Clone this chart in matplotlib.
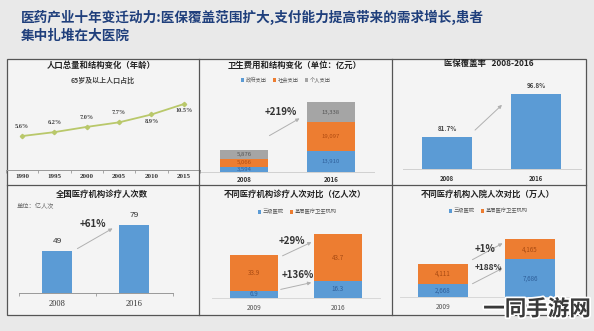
import matplotlib
matplotlib.use("Agg")
import matplotlib.pyplot as plt
import matplotlib.patheffects as pe
from matplotlib.patches import Rectangle
from matplotlib.lines import Line2D
import numpy as np

plt.rcParams['font.family'] = ['Noto Sans CJK SC', 'DejaVu Sans']

# ---------------- data ----------------
title_text = "医药产业十年变迁动力:医保覆盖范围扩大,支付能力提高带来的需求增长,患者\n集中扎堆在大医院"

p1_title = "人口总量和结构变化（年龄）"
p1_sub = "65岁及以上人口占比"
p1_years = ["1990", "1995", "2000", "2005", "2010", "2015"]
p1_values = [5.6, 6.2, 7.0, 7.7, 8.9, 10.5]

p2_title = "卫生费用和结构变化（单位：亿元）"
p2_years = ["2008", "2016"]
p2_series = ["政府支出", "社会支出", "个人支出"]
p2_gov = [3594, 13910]
p2_soc = [5066, 19097]
p2_ind = [5876, 13338]
p2_growth = "+219%"

p3_title = "医保覆盖率   2008-2016"
p3_years = ["2008", "2016"]
p3_values = [81.7, 96.8]

p4_title = "全国医疗机构诊疗人次数"
p4_unit = "单位：亿人次"
p4_years = ["2008", "2016"]
p4_values = [49, 79]
p4_growth = "+61%"

p5_title = "不同医疗机构诊疗人次对比（亿人次）"
p5_years = ["2009", "2016"]
p5_series = ["三级医院", "基层医疗卫生机构"]
p5_tier3 = [6.9, 16.3]
p5_basic = [33.9, 43.7]
p5_growth = ["+29%", "+136%"]

p6_title = "不同医疗机构入院人次对比（万人）"
p6_years = ["2009", "2016"]
p6_series = ["三级医院", "基层医疗卫生机构"]
p6_tier3 = [2668, 7686]
p6_basic = [4111, 4165]
p6_growth = ["+1%", "+188%"]

watermark = "一同手游网"

# ---------------- style ----------------
BLUE = "#5b9bd5"
ORANGE = "#ed7d31"
GRAY = "#a5a5a5"
LINEC = "#b9c86a"
W, H = 594, 331

fig = plt.figure(figsize=(W / 100, H / 100), dpi=100, facecolor="#e9e9e9")


def fx(x):
    return x / W


def fy(y):
    return 1 - y / H


def add_ax(x0, x1, ytop, ybot):
    ax = fig.add_axes([fx(x0), fy(ybot), (x1 - x0) / W, (ybot - ytop) / H])
    ax.patch.set_alpha(0)
    return ax


def ftext(x, y, s, **kw):
    kw.setdefault("ha", "center")
    kw.setdefault("va", "center")
    fig.text(fx(x), fy(y), s, **kw)


def farrow(x0, y0, x1, y1):
    fig.add_artist(matplotlib.patches.FancyArrowPatch(
        (fx(x0), fy(y0)), (fx(x1), fy(y1)), transform=fig.transFigure,
        arrowstyle="-|>", mutation_scale=5, color="#b0b0b0", lw=0.7))


# panel background and frame
fig.add_artist(Rectangle((fx(7), fy(315)), (586 - 7) / W, (315 - 59) / H,
                         transform=fig.transFigure, facecolor="#f4f4f4",
                         edgecolor="#555555", lw=0.9, zorder=0))
for xv in (199, 392):
    fig.add_artist(Line2D([fx(xv), fx(xv)], [fy(59), fy(315)],
                          transform=fig.transFigure, color="#555555", lw=0.9))
fig.add_artist(Line2D([fx(7), fx(586)], [fy(185), fy(185)],
                      transform=fig.transFigure, color="#555555", lw=0.9))

# main title
fig.text(fx(21), fy(26), title_text, ha="left", va="center", fontsize=9.8,
         fontweight="bold", color="#1f3f7c", linespacing=1.3)


def clean(ax, bottom=True, color="#c8c8c8"):
    for s in ("top", "right", "left"):
        ax.spines[s].set_visible(False)
    ax.spines["bottom"].set_visible(bottom)
    ax.spines["bottom"].set_color(color)
    ax.spines["bottom"].set_linewidth(0.7)
    ax.set_yticks([])


# ---------------- panel 1 ----------------
ax1 = add_ax(6, 200, 90, 170)
x1 = np.arange(len(p1_values))
ax1.plot(x1, p1_values, color=LINEC, lw=1.3, marker="D", ms=2.2, zorder=3)
ax1.set_xlim(-0.5, len(p1_values) - 0.5)
ax1.set_ylim(0.4, 12.65)
clean(ax1, color="#999999")
ax1.set_xticks(x1)
ax1.set_xticklabels(p1_years, fontsize=5, fontweight="bold",
                    family=["Liberation Serif"], color="#333333")
ax1.tick_params(axis="x", length=0, pad=3)
ax1.set_xticks(np.arange(-0.5, len(p1_values), 1), minor=True)
ax1.tick_params(axis="x", which="minor", length=2.5, color="#999999")
for i, v in enumerate(p1_values):
    off = 7 if i < 4 else -5
    ax1.annotate(f"{v:.1f}%", (i, v), xytext=(0, off), textcoords="offset points",
                 ha="center", va="center", fontsize=4.5, fontweight="bold",
                 color="#444444", family=["Liberation Serif"])
ftext(101, 65, p1_title, fontsize=6, fontweight="bold", color="#222222")
ftext(103, 80, p1_sub, fontsize=5, fontweight="bold", color="#444444")

# ---------------- panel 2 ----------------
ax2 = add_ax(200.5, 374.5, 95, 172)
x2 = np.arange(len(p2_years))
bw = 0.56
g = np.array(p2_gov)
s = np.array(p2_soc)
ind = np.array(p2_ind)
ax2.bar(x2, g, bw, color=BLUE, label=p2_series[0])
ax2.bar(x2, s, bw, bottom=g, color=ORANGE, label=p2_series[1])
ax2.bar(x2, ind, bw, bottom=g + s, color=GRAY, label=p2_series[2])
ax2.set_xlim(-0.5, 1.5)
ax2.set_ylim(0, 51300)
clean(ax2, color="#d0d0d0")
ax2.set_xticks(x2)
ax2.set_xticklabels(p2_years, fontsize=4.5, fontweight="bold", color="#333333")
ax2.tick_params(axis="x", length=0, pad=3)
for i in range(2):
    for base, val, tc in ((0, g[i], "#2f5f9a"), (g[i], s[i], "#b04a10"),
                          (g[i] + s[i], ind[i], "#555555")):
        ax2.text(i, base + val / 2, f"{val:,}", ha="center", va="center",
                 fontsize=4.3, color=tc)
ax2.legend(loc="center", bbox_to_anchor=(fx(286), fy(80)),
           bbox_transform=fig.transFigure, ncol=3, frameon=False, fontsize=3.8,
           handlelength=0.6, handleheight=0.6, columnspacing=1.2,
           handletextpad=0.3, labelcolor="#555555")
ftext(281, 112, p2_growth, fontsize=7, fontweight="bold", color="#333333")
farrow(267, 137, 302, 117)
ftext(295, 65, p2_title, fontsize=6, fontweight="bold", color="#222222")

# ---------------- panel 3 ----------------
ax3 = add_ax(402.5, 580.5, 85, 169)
x3 = np.arange(len(p3_years))
ax3.bar(x3, p3_values, 0.56, color=BLUE)
ax3.set_xlim(-0.5, 1.5)
ax3.set_ylim(70.5, 100)
clean(ax3, color="#d0d0d0")
ax3.set_xticks(x3)
ax3.set_xticklabels(p3_years, fontsize=4.3, fontweight="bold", color="#333333")
ax3.tick_params(axis="x", length=0, pad=4)
for i, v in enumerate(p3_values):
    ax3.annotate(f"{v}%", (i, v), xytext=(0, 6), textcoords="offset points",
                 ha="center", va="center", fontsize=4.5, fontweight="bold",
                 color="#444444", annotation_clip=False)
farrow(473, 132, 504, 103)
ftext(489, 63, p3_title, fontsize=6, fontweight="bold", color="#222222")

# ---------------- panel 4 ----------------
ax4 = add_ax(18.5, 172.5, 215, 293)
x4 = np.arange(len(p4_years))
ax4.bar(x4, p4_values, 0.4, color=BLUE)
ax4.set_xlim(-0.5, 1.5)
ax4.set_ylim(0, 90.7)
clean(ax4, color="#999999")
ax4.set_xticks(x4)
ax4.set_xticklabels(p4_years, fontsize=6, family=["Liberation Serif"],
                    color="#333333")
ax4.tick_params(axis="x", length=0, pad=5)
ax4.set_xticks([-0.5, 0.5, 1.5], minor=True)
ax4.tick_params(axis="x", which="minor", length=2.5, color="#999999")
for i, v in enumerate(p4_values):
    ax4.annotate(f"{v}", (i, v), xytext=(0, 7), textcoords="offset points",
                 ha="center", va="center", fontsize=6, color="#333333",
                 family=["Liberation Sans"])
ftext(93, 224, p4_growth, fontsize=7, fontweight="bold", color="#333333")
farrow(75, 250, 115, 227)
ftext(102, 194, p4_title, fontsize=6, fontweight="bold", color="#222222")
ftext(17, 206, p4_unit, ha="left", fontsize=4.5, color="#666666")

# ---------------- panel 5 ----------------
ax5 = add_ax(212, 380, 225, 298)
x5 = np.arange(len(p5_years))
t5 = np.array(p5_tier3)
b5 = np.array(p5_basic)
ax5.bar(x5, t5, 0.56, color=BLUE, label=p5_series[0])
ax5.bar(x5, b5, 0.56, bottom=t5, color=ORANGE, label=p5_series[1])
ax5.set_xlim(-0.5, 1.5)
ax5.set_ylim(0, 68.9)
clean(ax5, color="#d8d8d8")
ax5.set_xticks(x5)
ax5.set_xticklabels(p5_years, fontsize=4.8, color="#555555")
ax5.tick_params(axis="x", length=0, pad=4)
for i in range(2):
    ax5.text(i, t5[i] / 2, f"{t5[i]}", ha="center", va="center",
             fontsize=4.5, color="#2f5f9a")
    ax5.text(i, t5[i] + b5[i] / 2, f"{b5[i]}", ha="center", va="center",
             fontsize=4.5, color="#a84a12")
ax5.legend(loc="center", bbox_to_anchor=(fx(297), fy(212)),
           bbox_transform=fig.transFigure, ncol=2, frameon=False, fontsize=3.8,
           handlelength=0.6, handleheight=0.6, columnspacing=1.2,
           handletextpad=0.3, labelcolor="#555555")
ftext(292, 241, p5_growth[0], fontsize=7, fontweight="bold", color="#333333")
ftext(298, 275, p5_growth[1], fontsize=7, fontweight="bold", color="#333333")
farrow(280, 257, 314, 241)
farrow(278, 290, 314, 282)
ftext(295, 194, p5_title, fontsize=6, fontweight="bold", color="#222222")

# ---------------- panel 6 ----------------
ax6 = add_ax(399.5, 573.5, 225, 297)
x6 = np.arange(len(p6_years))
t6 = np.array(p6_tier3)
b6 = np.array(p6_basic)
ax6.bar(x6, t6, 0.575, color=BLUE, label=p6_series[0])
ax6.bar(x6, b6, 0.575, bottom=t6, color=ORANGE, label=p6_series[1])
ax6.set_xlim(-0.5, 1.5)
ax6.set_ylim(0, 14754)
clean(ax6, color="#d8d8d8")
ax6.set_xticks(x6)
ax6.set_xticklabels(p6_years, fontsize=4.8, color="#555555")
ax6.tick_params(axis="x", length=0, pad=4)
for i in range(2):
    ax6.text(i, t6[i] / 2, f"{t6[i]:,}", ha="center", va="center",
             fontsize=4.5, color="#2f5f9a")
    ax6.text(i, t6[i] + b6[i] / 2, f"{b6[i]:,}", ha="center", va="center",
             fontsize=4.5, color="#a84a12")
ax6.legend(loc="center", bbox_to_anchor=(fx(488), fy(211)),
           bbox_transform=fig.transFigure, ncol=2, frameon=False, fontsize=3.8,
           handlelength=0.6, handleheight=0.6, columnspacing=1.2,
           handletextpad=0.3, labelcolor="#555555")
ftext(485, 249, p6_growth[0], fontsize=7, fontweight="bold", color="#333333")
ftext(488, 267, p6_growth[1], fontsize=6, fontweight="bold", color="#333333")
farrow(470, 261, 505, 242)
farrow(470, 285, 505, 267)
ftext(488, 194, p6_title, fontsize=6, fontweight="bold", color="#222222")

# watermark (covers the 2016 label, as in the reference)
fig.text(fx(537), fy(309), watermark, ha="center", va="center", fontsize=15.5,
         fontweight="bold", color="#3a3a3a", zorder=10,
         path_effects=[pe.withStroke(linewidth=2.5, foreground="white")])

fig.savefig("out.png", dpi=100, facecolor=fig.get_facecolor())
